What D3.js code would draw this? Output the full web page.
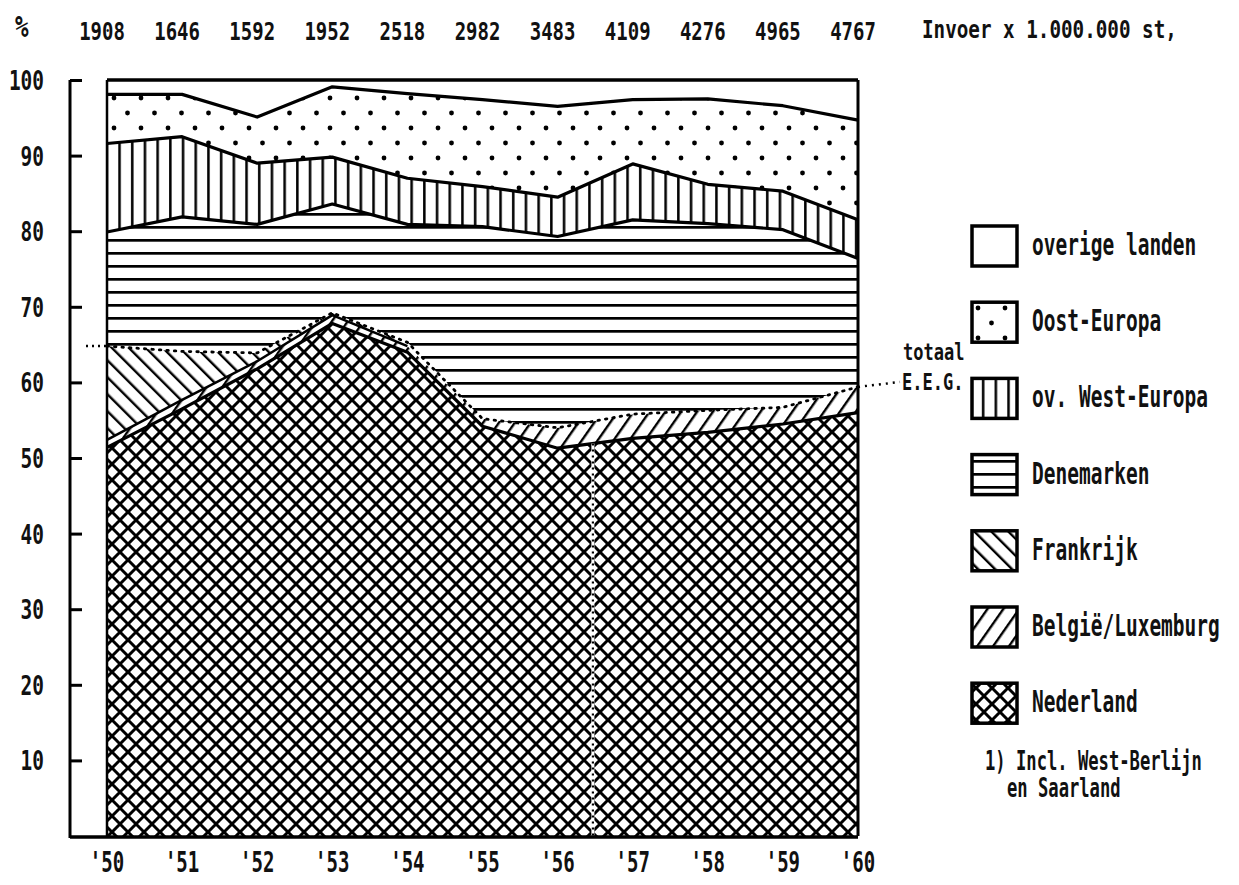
<!DOCTYPE html>
<html><head><meta charset="utf-8">
<script src="https://cdn.jsdelivr.net/npm/d3@7"></script>
<style>body{margin:0;background:#fff}text{font-family:"DejaVu Sans Mono",monospace;fill:#111;font-weight:bold}</style>
</head><body><svg id="chart" width="1239" height="885"></svg>
<script>
// ---------- data ----------
const years = [1950,1951,1952,1953,1954,1955,1956,1957,1958,1959,1960];
const importTotals = ["1908","1646","1592","1952","2518","2982","3483","4109","4276","4965","4767"];
const xTickLabels = ["'50","'51","'52","'53","'54","'55","'56","'57","'58","'59","'60"];
const yTicks = [10,20,30,40,50,60,70,80,90,100];
const nederland    = [51.4,56.5,61.8,67.8,64.0,54.2,51.3,52.6,53.4,54.5,56.0];
const belgieLux    = [1.0,1.2,1.0,1.1,0.8,1.0,2.7,3.2,2.9,2.2,3.4];
const frankrijk    = [12.4,6.4,1.1,0.3,0.5,0,0,0,0,0,0];
const denemarken   = [15.1,17.8,17.0,14.4,15.6,25.4,25.3,25.7,24.7,23.5,17.0];
const ovWestEuropa = [11.7,10.6,8.1,6.2,6.1,5.3,5.2,7.4,5.2,5.1,5.1];
const oostEuropa   = [6.5,5.6,6.1,9.3,11.2,11.5,12.0,8.5,11.3,11.3,13.2];
const overige      = [1.9,1.9,4.9,0.9,1.8,2.6,3.5,2.6,2.5,3.4,5.3];
const seriesKeys   = ["ned","bl","fr","dk","owe","oe","ov"];
const legendLabels = ["overige landen","Oost-Europa","ov. West-Europa","Denemarken","Frankrijk","België/Luxemburg","Nederland"];
const legendKeys   = ["ov","oe","owe","dk","fr","bl","ned"];
const breakYear = 1956.47;
const unitLabel = "Invoer x 1.000.000 st,";
const eegLabel = ["totaal","E.E.G."];
const footnote = ["1) Incl. West-Berlijn","en Saarland"];

const rows = years.map((yr,i)=>({year:yr,ned:nederland[i],bl:belgieLux[i],fr:frankrijk[i],dk:denemarken[i],owe:ovWestEuropa[i],oe:oostEuropa[i],ov:overige[i]}));

// ---------- setup ----------
const svg = d3.select("#chart");
const x = d3.scaleLinear().domain([1950,1960]).range([107,858]);
const y = d3.scaleLinear().domain([0,100]).range([836,80]);
const axisX = 70;

const defs = svg.append("defs");
function pat(id,w,h,rot,draw){
  const p = defs.append("pattern").attr("id",id).attr("patternUnits","userSpaceOnUse")
    .attr("width",w).attr("height",h);
  if(rot) p.attr("patternTransform",`rotate(${rot})`);
  p.append("rect").attr("width",w).attr("height",h).attr("fill","#fff");
  draw(p);
}
pat("p-ned",16,16,0,p=>{
  p.append("path").attr("d","M-2,-2L18,18M18,-2L-2,18").attr("stroke","#000").attr("stroke-width",3);
});
pat("p-bl",13,20,35,p=>{
  p.append("rect").attr("x",0).attr("y",0).attr("width",2.4).attr("height",20).attr("fill","#000");
});
pat("p-fr",12,20,-45,p=>{
  p.append("rect").attr("x",0).attr("y",0).attr("width",2.4).attr("height",20).attr("fill","#000");
});
pat("p-dk",20,13,0,p=>{
  p.append("rect").attr("x",0).attr("y",5).attr("width",20).attr("height",2.7).attr("fill","#000");
});
pat("p-owe",12.7,20,0,p=>{
  p.append("rect").attr("x",4).attr("y",0).attr("width",2.5).attr("height",20).attr("fill","#000");
});
pat("p-oe",27,30,0,p=>{
  p.append("circle").attr("cx",6).attr("cy",8).attr("r",2.4).attr("fill","#000");
  p.append("circle").attr("cx",19.5).attr("cy",23).attr("r",2.4).attr("fill","#000");
});

const fills = {ned:"url(#p-ned)",bl:"url(#p-bl)",fr:"url(#p-fr)",dk:"url(#p-dk)",owe:"url(#p-owe)",oe:"url(#p-oe)",ov:"#fff"};

// ---------- text helper ----------
function txt(g,s,px,py,size,sx,anchor){
  return g.append("text").attr("transform",`translate(${px},${py}) scale(${sx},1)`)
    .attr("font-size",size).attr("text-anchor",anchor||"start").text(s);
}

// ---------- stacked areas ----------
const stack = d3.stack().keys(seriesKeys)(rows);
const area = d3.area().x(d=>x(d.data.year)).y0(d=>y(d[0])).y1(d=>y(d[1]));
const plot = svg.append("g");
plot.selectAll("path.band").data(stack).join("path").attr("class","band")
  .attr("d",area).attr("fill",s=>fills[s.key]);

// boundary lines
const topOf = k => stack.find(s=>s.key===k);
function boundary(k,w,dash,def){
  const lg = d3.line().x(d=>x(d.data.year)).y(d=>y(d[1]));
  if(def) lg.defined(def);
  const p = plot.append("path").attr("d",lg(topOf(k))).attr("fill","none")
    .attr("stroke","#000").attr("stroke-width",w).attr("stroke-linejoin","round");
  if(dash) p.attr("stroke-dasharray",dash).attr("stroke-linecap","round");
}
boundary("ned",3.2);
boundary("bl",2.5,null,d=>d.data.fr>0);
boundary("fr",2.8,"1.5,6");
boundary("dk",3.2);
boundary("owe",3.2);
boundary("oe",3.2);

// vertical dotted break line in Nederland area
const bi = d3.bisectLeft(years,breakYear);
const t = (breakYear-years[bi-1])/(years[bi]-years[bi-1]);
const nedAtBreak = nederland[bi-1]+t*(nederland[bi]-nederland[bi-1]);
plot.append("line").attr("x1",x(breakYear)).attr("x2",x(breakYear))
  .attr("y1",y(nedAtBreak)).attr("y2",y(0)).attr("stroke","#fff").attr("stroke-width",3);
plot.append("line").attr("x1",x(breakYear)).attr("x2",x(breakYear))
  .attr("y1",y(nedAtBreak)).attr("y2",y(0)).attr("stroke","#000").attr("stroke-width",2.2)
  .attr("stroke-dasharray","2,4");

// plot frame
const frame = svg.append("g").attr("stroke","#000").attr("fill","none");
frame.append("line").attr("x1",x(1950)).attr("x2",x(1960)).attr("y1",y(100)).attr("y2",y(100)).attr("stroke-width",3.5);
frame.append("line").attr("x1",x(1950)).attr("x2",x(1950)).attr("y1",y(100)).attr("y2",y(0)).attr("stroke-width",2.5);
frame.append("line").attr("x1",x(1960)).attr("x2",x(1960)).attr("y1",y(100)).attr("y2",y(0)).attr("stroke-width",3);
frame.append("line").attr("x1",axisX).attr("x2",x(1960)).attr("y1",y(0)+1).attr("y2",y(0)+1).attr("stroke-width",3.5);

// y axis
const yAxis = d3.axisLeft(y).tickValues(yTicks).tickSizeInner(-12).tickSizeOuter(0).tickFormat("");
const ya = svg.append("g").attr("transform",`translate(${axisX},0)`).call(yAxis);
ya.select(".domain").attr("stroke-width",3).attr("d",`M0,${y(100)}V${y(0)+2}`);
ya.selectAll(".tick line").attr("stroke-width",3);
const lab = svg.append("g");
yTicks.forEach(v=>txt(lab,String(v),44,y(v)+10,27,0.72,"end"));

// x labels
years.forEach((yr,i)=>txt(lab,xTickLabels[i],x(yr),872,28,0.68,"middle"));

// top labels
txt(lab,"%",15,37,30,0.75,"start");
years.forEach((yr,i)=>txt(lab,importTotals[i],x(yr)-5,40,25,0.76,"middle"));
txt(lab,unitLabel,922,38,25,0.77,"start");

// EEG leaders
const eeg0 = nederland[0]+belgieLux[0]+frankrijk[0];
const eegN = nederland[10]+belgieLux[10]+frankrijk[10];
svg.append("line").attr("x1",86).attr("x2",x(1950)).attr("y1",y(eeg0)).attr("y2",y(eeg0))
  .attr("stroke","#000").attr("stroke-width",2.5).attr("stroke-dasharray","2,4");
svg.append("line").attr("x1",x(1960)).attr("x2",900).attr("y1",y(eegN)).attr("y2",y(eegN)-5)
  .attr("stroke","#000").attr("stroke-width",2.5).attr("stroke-dasharray","2,5");
txt(lab,eegLabel[0],903,360,23,0.74,"start");
txt(lab,eegLabel[1],902,390,23,0.74,"start");

// legend
const leg = svg.append("g");
legendKeys.forEach((k,i)=>{
  const cy = 246 + 76.2*i;
  leg.append("rect").attr("x",972).attr("y",cy-20).attr("width",45).attr("height",40)
    .attr("fill",fills[k]).attr("stroke","#000").attr("stroke-width",3.5);
  txt(leg,legendLabels[i],1032,cy+9,30,0.65,"start");
});
txt(leg,footnote[0],985,770,26,0.66,"start");
txt(leg,footnote[1],1007,797,26,0.66,"start");
</script></body></html>
